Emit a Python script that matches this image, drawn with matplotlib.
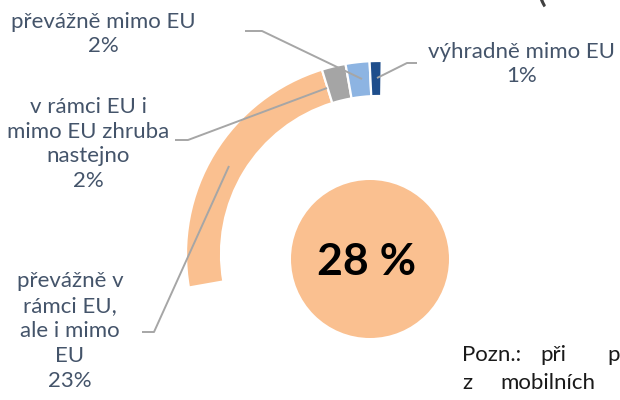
import matplotlib.pyplot as plt

# share of the 28 % split by where the data goes
categories = ["převážně v\nrámci EU,\nale i mimo\nEU",
              "v rámci EU i\nmimo EU zhruba\nnastejno",
              "převážně mimo EU",
              "výhradně mimo EU"]
values = [23, 2, 2, 1]
colors = ["#FAC090", "#A5A5A5", "#8DB4E2", "#1F4E8C"]

total = sum(values)
rest = 100 - total

plt.rcParams['font.family'] = ['Lato', 'DejaVu Sans']
label_color = "#44546A"
line_color = "#A6A6A6"

fig = plt.figure(figsize=(6.2, 4.0), dpi=100)
ax = fig.add_axes([0, 0, 1, 1])

# doughnut arc, the remainder to 100 % is left out
wedges, _ = ax.pie(values + [rest], radius=193, center=(379, 146),
                   startangle=190, counterclock=False,
                   colors=colors + ["none"],
                   wedgeprops=dict(width=35, edgecolor="white", linewidth=1.6))
wedges[-1].set_visible(False)

# filled circle with the total share
ax.add_patch(plt.Circle((370, 141), 79, color="#FAC090", lw=0))
ax.text(367, 138, f"{total} %", ha="center", va="center",
        fontsize=32, fontweight="bold", color="black")

# labels and leader lines (positions in pixels, y from the top)
def H(y):
    return 400 - y

labels = [
    (70, 331, f"{categories[0]}\n{values[0]}%",
     [(142, 332), (154, 332), (229, 166)]),
    (88, 144, f"{categories[1]}\n{values[1]}%",
     [(175, 140), (188, 140), (327, 88)]),
    (103, 34, f"{categories[2]}\n{values[2]}%",
     [(245, 31), (262, 31), (362, 79)]),
    (522, 64, f"{categories[3]}\n{values[3]}%",
     [(377, 78), (407, 63), (417, 63)]),
]
for x, y, txt, pts in labels:
    ax.text(x, H(y), txt, ha="center", va="center", fontsize=16,
            color=label_color, linespacing=1.3)
    ax.plot([p[0] for p in pts], [H(p[1]) for p in pts],
            color=line_color, lw=1.4, solid_capstyle="butt")

# note text, justified, running off the right edge
note = [(462, 355, "Pozn.:"), (540, 355, "při"), (607, 355, "p"),
        (462, 383, "z"), (500, 383, "mobilních")]
for x, y, word in note:
    ax.text(x, H(y), word, ha="left", va="center", fontsize=16,
            color="#1A1A1A")
ax.text(535, H(-12), "(", ha="left", va="center", fontsize=30,
        color="#404040")

ax.set_xlim(0, 620)
ax.set_ylim(0, 400)
ax.set_aspect("auto")
ax.axis("off")

fig.savefig("out.png", dpi=100, facecolor="white")
